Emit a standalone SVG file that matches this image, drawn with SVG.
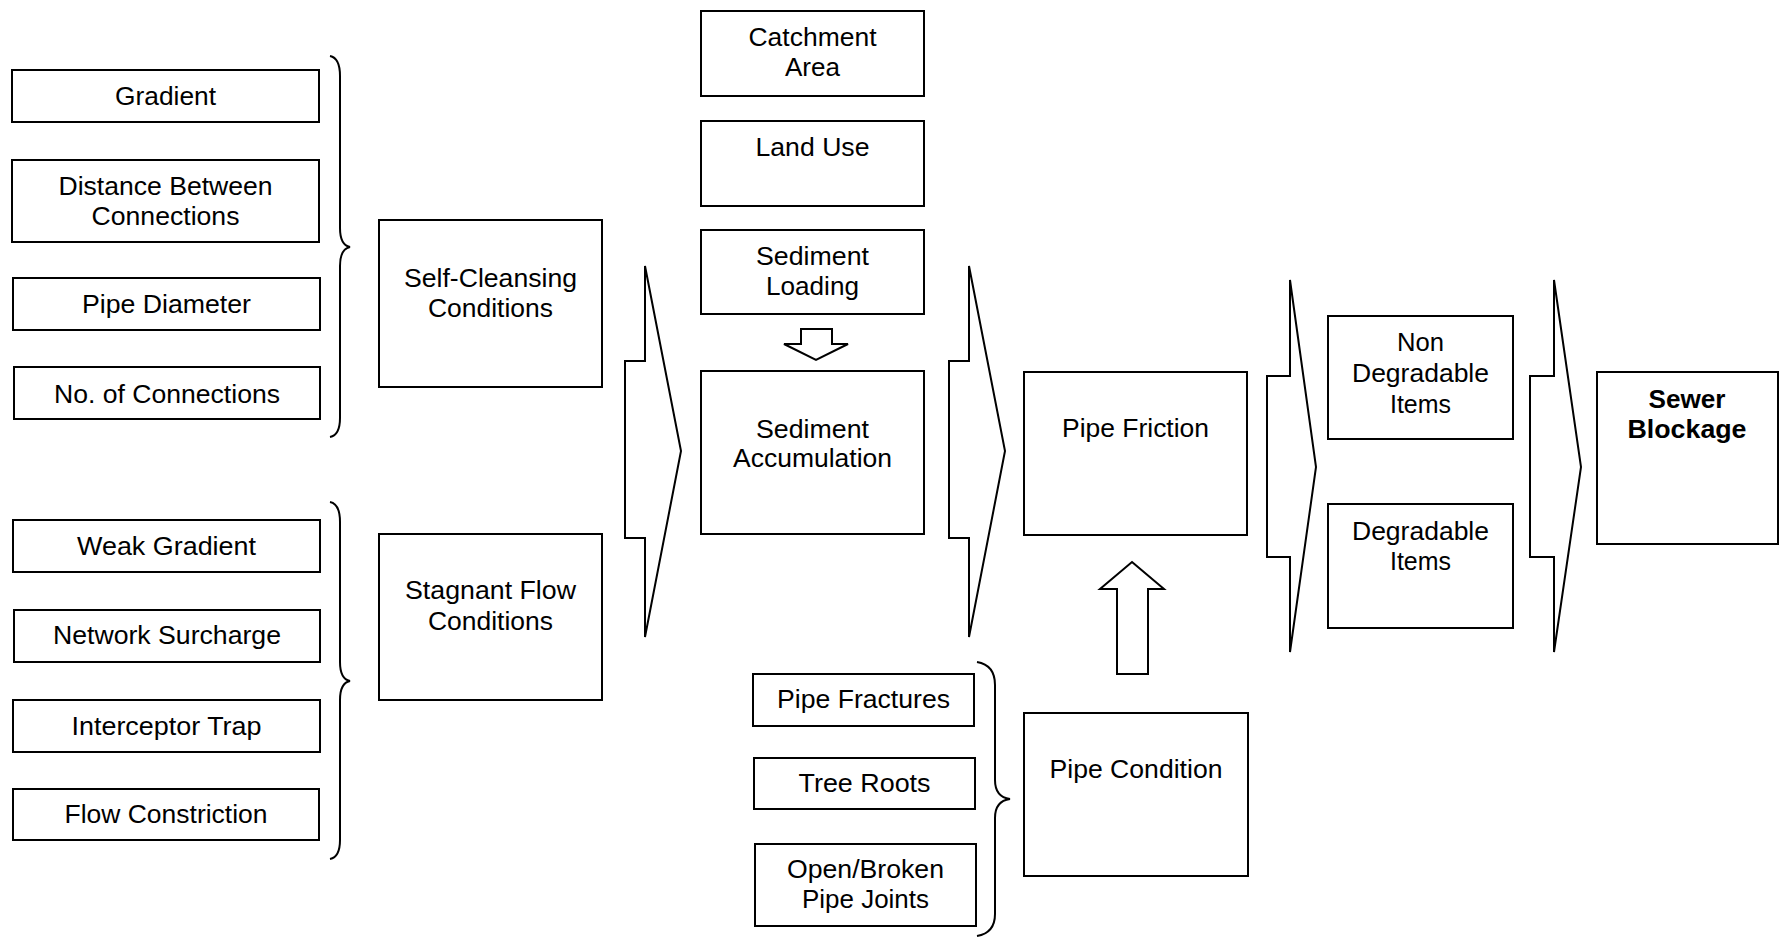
<svg xmlns="http://www.w3.org/2000/svg" width="1781" height="937" viewBox="0 0 1781 937">
<style>
rect.b{fill:#fff;stroke:#000;stroke-width:2}
.c{fill:#fff;stroke:#000;stroke-width:2;stroke-linejoin:miter}
.br{fill:none;stroke:#000;stroke-width:2}
text{font-family:"Liberation Sans",Arial,Helvetica,sans-serif;font-size:26px;fill:#000;text-anchor:middle}
text.bold{font-weight:bold}
</style>
<rect width="1781" height="937" fill="#fff"/>
<g id="connectors">
<path class="c" d="M625,361 L645,361 L645,266 L681,451 L645,637 L645,538 L625,538 Z"/>
<path class="c" d="M949,361 L969,361 L969,266 L1005,451 L969,637 L969,538 L949,538 Z"/>
<path class="c" d="M1267,376 L1290,376 L1290,280 L1316,467 L1290,652 L1290,557 L1267,557 Z"/>
<path class="c" d="M1530,376 L1554,376 L1554,280 L1581,467 L1554,652 L1554,557 L1530,557 Z"/>
<path class="c" d="M801,329 L832,329 L832,344 L848,344 L816,360 L784,344 L801,344 Z"/>
<path class="c" d="M1132,562 L1164,589 L1148,589 L1148,674 L1117,674 L1117,589 L1100,589 Z"/>
<path class="br" d="M330,56 Q340,58 340,76 L340,228 Q340,245 350,247 Q340,249 340,266 L340,418 Q340,435 330,437"/>
<path class="br" d="M330,502 Q340,504 340,522 L340,662 Q340,679 350,681 Q340,683 340,700 L340,840 Q340,857 330,859"/>
<path class="br" d="M977,662 Q995,665 995,685 L995,780 Q995,797 1010,799 Q995,801 995,818 L995,914 Q995,933 977,936"/>
</g>
<g id="gradient"><rect class="b" x="12" y="70" width="307" height="52"/><text x="165.5" y="105" textLength="101" lengthAdjust="spacingAndGlyphs">Gradient</text></g>
<g id="distance"><rect class="b" x="12" y="160" width="307" height="82"/><text x="165.5" y="195" textLength="214" lengthAdjust="spacingAndGlyphs">Distance Between</text><text x="165.5" y="225" textLength="148" lengthAdjust="spacingAndGlyphs">Connections</text></g>
<g id="pipe-diameter"><rect class="b" x="13" y="278" width="307" height="52"/><text x="166.5" y="313" textLength="169" lengthAdjust="spacingAndGlyphs">Pipe Diameter</text></g>
<g id="no-connections"><rect class="b" x="14" y="367" width="306" height="52"/><text x="167" y="403" textLength="226" lengthAdjust="spacingAndGlyphs">No. of Connections</text></g>
<g id="self-cleansing"><rect class="b" x="379" y="220" width="223" height="167"/><text x="490.5" y="287" textLength="173" lengthAdjust="spacingAndGlyphs">Self-Cleansing</text><text x="490.5" y="317" textLength="125" lengthAdjust="spacingAndGlyphs">Conditions</text></g>
<g id="weak-gradient"><rect class="b" x="13" y="520" width="307" height="52"/><text x="166.5" y="555" textLength="179" lengthAdjust="spacingAndGlyphs">Weak Gradient</text></g>
<g id="network-surcharge"><rect class="b" x="14" y="610" width="306" height="52"/><text x="167" y="644" textLength="228" lengthAdjust="spacingAndGlyphs">Network Surcharge</text></g>
<g id="interceptor-trap"><rect class="b" x="13" y="700" width="307" height="52"/><text x="166.5" y="735" textLength="190" lengthAdjust="spacingAndGlyphs">Interceptor Trap</text></g>
<g id="flow-constriction"><rect class="b" x="13" y="789" width="306" height="51"/><text x="166" y="823" textLength="203" lengthAdjust="spacingAndGlyphs">Flow Constriction</text></g>
<g id="stagnant-flow"><rect class="b" x="379" y="534" width="223" height="166"/><text x="490.5" y="599" textLength="171" lengthAdjust="spacingAndGlyphs">Stagnant Flow</text><text x="490.5" y="630" textLength="125" lengthAdjust="spacingAndGlyphs">Conditions</text></g>
<g id="catchment-area"><rect class="b" x="701" y="11" width="223" height="85"/><text x="812.5" y="46" textLength="128" lengthAdjust="spacingAndGlyphs">Catchment</text><text x="812.5" y="76" textLength="55" lengthAdjust="spacingAndGlyphs">Area</text></g>
<g id="land-use"><rect class="b" x="701" y="121" width="223" height="85"/><text x="812.5" y="156" textLength="114" lengthAdjust="spacingAndGlyphs">Land Use</text></g>
<g id="sediment-loading"><rect class="b" x="701" y="230" width="223" height="84"/><text x="812.5" y="265" textLength="113" lengthAdjust="spacingAndGlyphs">Sediment</text><text x="812.5" y="295" textLength="93" lengthAdjust="spacingAndGlyphs">Loading</text></g>
<g id="sediment-accumulation"><rect class="b" x="701" y="371" width="223" height="163"/><text x="812.5" y="438" textLength="113" lengthAdjust="spacingAndGlyphs">Sediment</text><text x="812.5" y="467" textLength="159" lengthAdjust="spacingAndGlyphs">Accumulation</text></g>
<g id="pipe-friction"><rect class="b" x="1024" y="372" width="223" height="163"/><text x="1135.5" y="437" textLength="147" lengthAdjust="spacingAndGlyphs">Pipe Friction</text></g>
<g id="non-degradable"><rect class="b" x="1328" y="316" width="185" height="123"/><text x="1420.5" y="351" textLength="47" lengthAdjust="spacingAndGlyphs">Non</text><text x="1420.5" y="382" textLength="137" lengthAdjust="spacingAndGlyphs">Degradable</text><text x="1420.5" y="413" textLength="61" lengthAdjust="spacingAndGlyphs">Items</text></g>
<g id="degradable"><rect class="b" x="1328" y="504" width="185" height="124"/><text x="1420.5" y="540" textLength="137" lengthAdjust="spacingAndGlyphs">Degradable</text><text x="1420.5" y="570" textLength="61" lengthAdjust="spacingAndGlyphs">Items</text></g>
<g id="sewer-blockage"><rect class="b" x="1597" y="372" width="181" height="172"/><text class="bold" x="1687" y="408" textLength="77" lengthAdjust="spacingAndGlyphs">Sewer</text><text class="bold" x="1687" y="438" textLength="119" lengthAdjust="spacingAndGlyphs">Blockage</text></g>
<g id="pipe-fractures"><rect class="b" x="753" y="674" width="221" height="52"/><text x="863.5" y="708" textLength="173" lengthAdjust="spacingAndGlyphs">Pipe Fractures</text></g>
<g id="tree-roots"><rect class="b" x="754" y="758" width="221" height="51"/><text x="864.5" y="792" textLength="132" lengthAdjust="spacingAndGlyphs">Tree Roots</text></g>
<g id="open-broken"><rect class="b" x="755" y="844" width="221" height="82"/><text x="865.5" y="878" textLength="157" lengthAdjust="spacingAndGlyphs">Open/Broken</text><text x="865.5" y="908" textLength="127" lengthAdjust="spacingAndGlyphs">Pipe Joints</text></g>
<g id="pipe-condition"><rect class="b" x="1024" y="713" width="224" height="163"/><text x="1136" y="778" textLength="173" lengthAdjust="spacingAndGlyphs">Pipe Condition</text></g>
</svg>
